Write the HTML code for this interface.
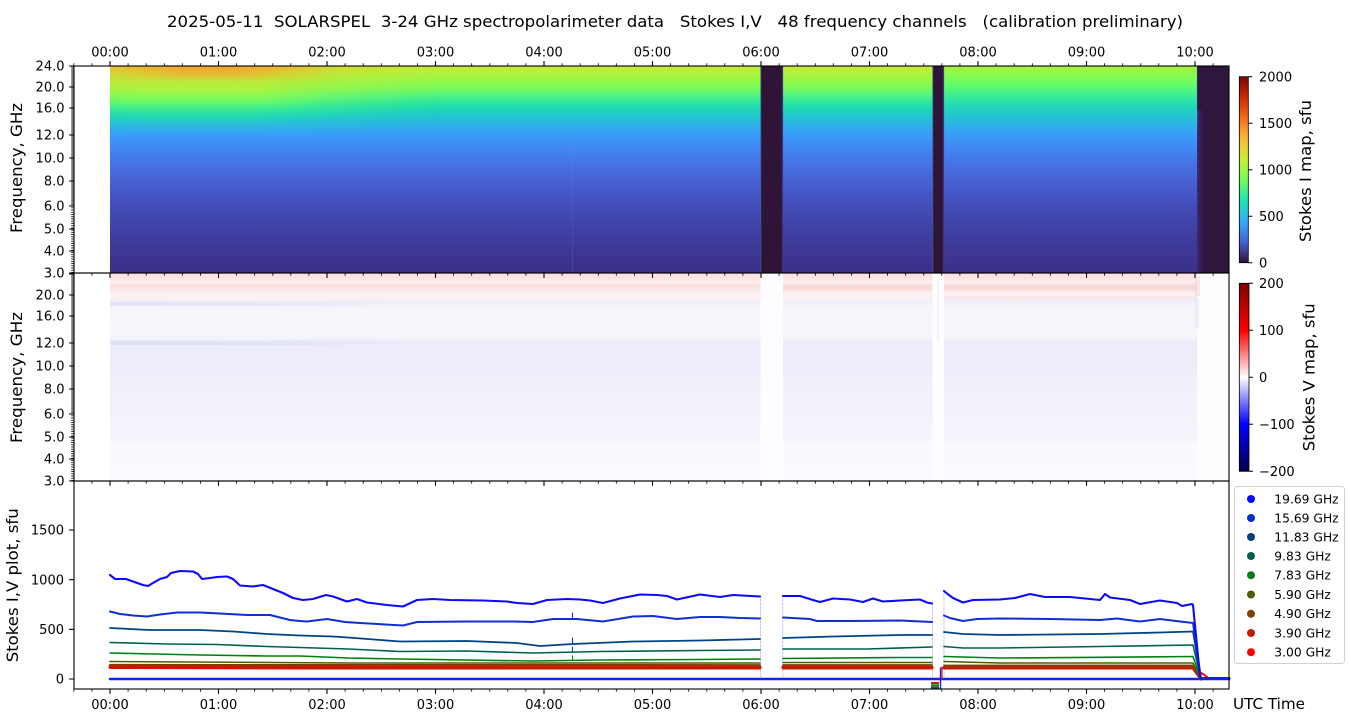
<!DOCTYPE html>
<html><head><meta charset="utf-8">
<style>
html,body{margin:0;padding:0;background:#fff;width:1350px;height:725px;overflow:hidden}
svg{display:block}
text{font-family:"DejaVu Sans","Liberation Sans",sans-serif;fill:#000}
</style></head>
<body>
<svg width="1350" height="725" viewBox="0 0 1350 725" xmlns="http://www.w3.org/2000/svg">
<defs>
  <linearGradient id="gM" gradientUnits="userSpaceOnUse" x1="0" y1="66" x2="0" y2="273">
    <stop offset="0" stop-color="#c4ea36"/>
    <stop offset=".029" stop-color="#b4f23a"/>
    <stop offset=".068" stop-color="#98f848"/>
    <stop offset=".106" stop-color="#78fb5c"/>
    <stop offset=".145" stop-color="#4cf285"/>
    <stop offset=".184" stop-color="#26e2a6"/>
    <stop offset=".222" stop-color="#1ed0c0"/>
    <stop offset=".271" stop-color="#2ab8e2"/>
    <stop offset=".329" stop-color="#389ef8"/>
    <stop offset=".396" stop-color="#4187f5"/>
    <stop offset=".478" stop-color="#4672e4"/>
    <stop offset=".575" stop-color="#465ed0"/>
    <stop offset=".671" stop-color="#434eba"/>
    <stop offset=".792" stop-color="#4040a4"/>
    <stop offset=".913" stop-color="#3d3692"/>
    <stop offset="1" stop-color="#3b3088"/>
  </linearGradient>
  <linearGradient id="gL" gradientUnits="userSpaceOnUse" x1="0" y1="66" x2="0" y2="134">
    <stop offset="0" stop-color="#e6c436"/>
    <stop offset=".059" stop-color="#dcd037"/>
    <stop offset=".147" stop-color="#cce038"/>
    <stop offset=".265" stop-color="#b8ec3a"/>
    <stop offset=".382" stop-color="#a0f646"/>
    <stop offset=".5" stop-color="#78fb5c"/>
    <stop offset=".618" stop-color="#40ee8e"/>
    <stop offset=".735" stop-color="#22dab0"/>
    <stop offset=".853" stop-color="#28c0d8"/>
    <stop offset="1" stop-color="#389ef8"/>
  </linearGradient>
  <linearGradient id="gR" gradientUnits="userSpaceOnUse" x1="0" y1="66" x2="0" y2="134">
    <stop offset="0" stop-color="#a8f03e"/>
    <stop offset=".118" stop-color="#8cf84c"/>
    <stop offset=".265" stop-color="#66fc66"/>
    <stop offset=".412" stop-color="#40f090"/>
    <stop offset=".559" stop-color="#24dcb0"/>
    <stop offset=".706" stop-color="#22c8cc"/>
    <stop offset=".853" stop-color="#2cb4e6"/>
    <stop offset="1" stop-color="#389ef8"/>
  </linearGradient>
  <linearGradient id="mL" gradientUnits="userSpaceOnUse" x1="110" y1="0" x2="440" y2="0">
    <stop offset="0" stop-color="#fff" stop-opacity=".9"/>
    <stop offset=".1" stop-color="#fff"/>
    <stop offset=".45" stop-color="#fff"/>
    <stop offset=".65" stop-color="#fff" stop-opacity=".5"/>
    <stop offset="1" stop-color="#fff" stop-opacity="0"/>
  </linearGradient>
  <mask id="mk" maskUnits="userSpaceOnUse" x="0" y="0" width="1350" height="725">
    <rect x="110" y="66" width="330" height="68" fill="url(#mL)"/>
  </mask>
  <linearGradient id="gOr" gradientUnits="userSpaceOnUse" x1="110" y1="0" x2="340" y2="0">
    <stop offset="0" stop-color="#f4a030" stop-opacity=".2"/>
    <stop offset=".2" stop-color="#f4a030" stop-opacity=".55"/>
    <stop offset=".3" stop-color="#f4a030" stop-opacity=".9"/>
    <stop offset=".55" stop-color="#f4a030" stop-opacity=".9"/>
    <stop offset=".75" stop-color="#f4a030" stop-opacity=".45"/>
    <stop offset="1" stop-color="#f4a030" stop-opacity="0"/>
  </linearGradient>
  <linearGradient id="gOrV" x1="0" y1="0" x2="0" y2="1">
    <stop offset="0" stop-color="#fff"/>
    <stop offset=".5" stop-color="#fff" stop-opacity=".6"/>
    <stop offset="1" stop-color="#fff" stop-opacity="0"/>
  </linearGradient>
  <mask id="mOr" maskUnits="userSpaceOnUse" x="0" y="0" width="1350" height="725">
    <rect x="110" y="66" width="230" height="16" fill="url(#gOrV)"/>
  </mask>
  <linearGradient id="gEnd" x1="0" y1="0" x2="1" y2="0">
    <stop offset="0" stop-color="#3a3088" stop-opacity=".85"/>
    <stop offset="1" stop-color="#30153d" stop-opacity="0"/>
  </linearGradient>
  <linearGradient id="gV" gradientUnits="userSpaceOnUse" x1="0" y1="273" x2="0" y2="481">
    <stop offset="0" stop-color="#fbe6e6"/>
    <stop offset=".024" stop-color="#fbe2e2"/>
    <stop offset=".043" stop-color="#fdeeee"/>
    <stop offset=".063" stop-color="#fbdede"/>
    <stop offset=".082" stop-color="#fce9e9"/>
    <stop offset=".101" stop-color="#fdf2f2"/>
    <stop offset=".12" stop-color="#fcf0f2"/>
    <stop offset=".139" stop-color="#efeff9"/>
    <stop offset=".159" stop-color="#f5f3fa"/>
    <stop offset=".188" stop-color="#f8f6fb"/>
    <stop offset=".226" stop-color="#f6f4fb"/>
    <stop offset=".274" stop-color="#f8f7fc"/>
    <stop offset=".313" stop-color="#f4f4fc"/>
    <stop offset=".332" stop-color="#eaeaf9"/>
    <stop offset=".351" stop-color="#ececfa"/>
    <stop offset=".466" stop-color="#ededfa"/>
    <stop offset=".514" stop-color="#f0f0fb"/>
    <stop offset=".635" stop-color="#f2f2fc"/>
    <stop offset=".803" stop-color="#f4f4fd"/>
    <stop offset=".822" stop-color="#f9f9fe"/>
    <stop offset="1" stop-color="#fbfbff"/>
  </linearGradient>
  <linearGradient id="gVl" gradientUnits="userSpaceOnUse" x1="110" y1="0" x2="430" y2="0">
    <stop offset="0" stop-color="#d8d8f4" stop-opacity=".55"/>
    <stop offset=".5" stop-color="#d8d8f4" stop-opacity=".4"/>
    <stop offset="1" stop-color="#d8d8f4" stop-opacity="0"/>
  </linearGradient>
  <linearGradient id="cbI" x1="0" y1="1" x2="0" y2="0">
    <stop offset="0" stop-color="#30123b"/>
    <stop offset=".111" stop-color="#4662d7"/>
    <stop offset=".222" stop-color="#36aaf9"/>
    <stop offset=".333" stop-color="#1ae4b6"/>
    <stop offset=".444" stop-color="#72fe5e"/>
    <stop offset=".556" stop-color="#c8ef34"/>
    <stop offset=".667" stop-color="#faba39"/>
    <stop offset=".778" stop-color="#f66b19"/>
    <stop offset=".889" stop-color="#ca2a04"/>
    <stop offset="1" stop-color="#7a0403"/>
  </linearGradient>
  <linearGradient id="cbV" x1="0" y1="1" x2="0" y2="0">
    <stop offset="0" stop-color="#00004c"/>
    <stop offset=".25" stop-color="#0000ff"/>
    <stop offset=".5" stop-color="#ffffff"/>
    <stop offset=".75" stop-color="#ff0000"/>
    <stop offset="1" stop-color="#7f0000"/>
  </linearGradient>
  <pattern id="pt" patternUnits="userSpaceOnUse" x="0" y="0" width="10" height="2.23">
    <rect x="0" y="0" width="10" height="0.8" fill="#000"/>
  </pattern>
  <g id="xt" stroke="#000" fill="none">
    <path stroke-width="1.1" d="M110 0v4.9M218.5 0v4.9M327 0v4.9M435.5 0v4.9M544 0v4.9M652.5 0v4.9M761 0v4.9M869.5 0v4.9M978 0v4.9M1086.5 0v4.9M1195 0v4.9"/>
    <path stroke-width="0.8" d="M73.8 0v2.8M91.9 0v2.8M128.1 0v2.8M146.2 0v2.8M164.3 0v2.8M182.3 0v2.8M200.4 0v2.8M236.6 0v2.8M254.7 0v2.8M272.8 0v2.8M290.8 0v2.8M308.9 0v2.8M345.1 0v2.8M363.2 0v2.8M381.3 0v2.8M399.3 0v2.8M417.4 0v2.8M453.6 0v2.8M471.7 0v2.8M489.8 0v2.8M507.8 0v2.8M525.9 0v2.8M562.1 0v2.8M580.2 0v2.8M598.3 0v2.8M616.3 0v2.8M634.4 0v2.8M670.6 0v2.8M688.7 0v2.8M706.8 0v2.8M724.8 0v2.8M742.9 0v2.8M779.1 0v2.8M797.2 0v2.8M815.3 0v2.8M833.3 0v2.8M851.4 0v2.8M887.6 0v2.8M905.7 0v2.8M923.8 0v2.8M941.8 0v2.8M959.9 0v2.8M996.1 0v2.8M1014.2 0v2.8M1032.3 0v2.8M1050.3 0v2.8M1068.4 0v2.8M1104.6 0v2.8M1122.7 0v2.8M1140.8 0v2.8M1158.8 0v2.8M1176.9 0v2.8M1213.1 0v2.8"/>
  </g>
  <g id="yt">
    <rect x="71.2" y="206" width="2.8" height="67" fill="url(#pt)"/>
    <rect x="71.2" y="66" width="2.8" height="140" fill="#000" fill-opacity=".5"/>
    <path stroke="#000" stroke-width="1.1" d="M69.1 66h4.9M69.1 87h4.9M69.1 108h4.9M69.1 135h4.9M69.1 158h4.9M69.1 181h4.9M69.1 206h4.9M69.1 229h4.9M69.1 251h4.9M69.1 273h4.9"/>
  </g>
</defs>

<!-- Title -->
<text x="167" y="27" font-size="16" textLength="1016" lengthAdjust="spacingAndGlyphs" style="white-space:pre">2025-05-11  SOLARSPEL  3-24 GHz spectropolarimeter data   Stokes I,V   48 frequency channels   (calibration preliminary)</text>

<!-- ===== TOP PANEL: Stokes I map ===== -->
<rect x="110" y="66" width="1119" height="207" fill="url(#gM)"/>
<rect x="110" y="66" width="330" height="68" fill="url(#gL)" mask="url(#mk)"/>
<rect x="110" y="66" width="230" height="16" fill="url(#gOr)" mask="url(#mOr)"/>
<rect x="944" y="66" width="253" height="68" fill="url(#gR)"/>
<line x1="572.5" y1="140" x2="572.5" y2="273" stroke="#6a8af0" stroke-opacity=".18"/>
<rect x="760.5" y="66" width="22.5" height="207" fill="#301438"/>
<rect x="932.5" y="66" width="11.5" height="207" fill="#301438"/>
<line x1="760.8" y1="66" x2="760.8" y2="273" stroke="#30b0e0" stroke-opacity=".4"/>
<line x1="782.5" y1="66" x2="782.5" y2="273" stroke="#4050b0" stroke-opacity=".5" stroke-width="1.5"/>
<line x1="932.8" y1="66" x2="932.8" y2="273" stroke="#30b0e0" stroke-opacity=".4"/>
<line x1="943.5" y1="66" x2="943.5" y2="273" stroke="#4050b0" stroke-opacity=".5" stroke-width="1.5"/>
<rect x="1197" y="66" width="32" height="207" fill="#30153d"/>
<rect x="1197" y="110" width="9" height="163" fill="url(#gEnd)"/>
<line x1="1196.8" y1="66" x2="1196.8" y2="130" stroke="#50c8e0" stroke-opacity=".4"/>

<!-- ===== MIDDLE PANEL: Stokes V map ===== -->
<rect x="110" y="273" width="1087" height="208" fill="url(#gV)"/>
<rect x="110" y="302" width="320" height="4" fill="url(#gVl)"/>
<rect x="110" y="341" width="320" height="4" fill="url(#gVl)"/>
<rect x="783" y="285" width="149" height="6" fill="#f4c8c8" fill-opacity=".3"/>
<rect x="944" y="285" width="253" height="6" fill="#f4c8c8" fill-opacity=".35"/>
<rect x="944" y="296" width="253" height="4" fill="#f6d8d8" fill-opacity=".3"/>
<rect x="760.5" y="273" width="22.5" height="208" fill="#fdfcfe"/>
<rect x="932.5" y="273" width="11.5" height="208" fill="#fdfcfe"/>
<line x1="938" y1="280" x2="938" y2="340" stroke="#d0d0f2" stroke-opacity=".5"/>
<rect x="1197" y="273" width="32" height="208" fill="#fefdfe"/>
<rect x="1195" y="276" width="5" height="20" fill="#f4c8c8" fill-opacity=".4"/>
<rect x="1195" y="298" width="4" height="30" fill="#dcdcf4" fill-opacity=".4"/>

<!-- ===== BOTTOM PANEL: lines ===== -->
<g fill="none" stroke-linejoin="round" stroke-linecap="round">
  <line x1="110" y1="679" x2="1229" y2="679" stroke="#1020ff" stroke-width="2.5"/>
  <g stroke="#6070f0" stroke-opacity=".4" stroke-width="1" stroke-dasharray="2 1.5">
    <line x1="760.5" y1="596" x2="760.5" y2="679"/>
    <line x1="782.8" y1="596" x2="782.8" y2="679"/>
    <line x1="932.5" y1="603" x2="932.5" y2="679"/>
    <line x1="944" y1="591" x2="944" y2="679"/>
  </g>
  <g stroke="#ff0000" stroke-width="2">
    <polyline points="110,668 300,668.5 760,668.5"/>
    <polyline points="783,668.5 932,668.5"/>
    <polyline points="944,668.5 1193,668.5 1203,674 1207,677"/>
  </g>
  <g stroke="#c41a00" stroke-width="3.2">
    <polyline points="110,666.8 400,667.2 760,667.3"/>
    <polyline points="783,667.3 932,667.3"/>
    <polyline points="944,667.8 1193,667.8 1201,679"/>
  </g>
  <g stroke="#7a3f00" stroke-width="1.8">
    <polyline points="110,664.8 760,665"/>
    <polyline points="783,665 932,665"/>
    <polyline points="944,665.5 1193,665.5 1201,679"/>
  </g>
  <g stroke="#4c6000" stroke-width="1.5">
    <polyline points="110,661.5 348,663 750,663 760,663"/>
    <polyline points="783,662.5 932,662.5"/>
    <polyline points="944,661.5 1000,663 1193,663 1201,679"/>
  </g>
  <g stroke="#008010" stroke-width="1.6">
    <polyline points="110,653 200,655 267,656 300,656 348,658 400,659 533,661 600,660 700,659.5 760,659"/>
    <polyline points="783,658.5 900,657.5 932,657.5"/>
    <polyline points="944,656.5 1000,658 1100,657.3 1193,656.5 1201,679"/>
  </g>
  <g stroke="#00604c" stroke-width="1.6">
    <polyline points="110,642.5 167,644 217,644.5 267,646.5 300,647.5 348,649 400,651.5 467,651 533,653 600,651.5 700,650.5 760,650"/>
    <polyline points="783,649 867,649 932,647"/>
    <polyline points="944,646.5 963,648 1000,648 1100,646.5 1193,645 1201,679"/>
  </g>
  <g stroke="#004488" stroke-width="1.8">
    <polyline points="110,628 150,630 200,630 233,631.5 267,634 300,635.5 333,636.5 348,637.5 400,641.5 467,641 517,643 540,646 573,644 633,641.5 700,640.5 760,639"/>
    <polyline points="783,638 833,636.5 900,635 932,635"/>
    <polyline points="944,632 963,634 1000,635 1100,634 1160,632.5 1193,631.5 1201,679"/>
  </g>
  <g stroke="#1030d0" stroke-width="2">
    <polyline points="110,611.5 120,614 133,615.5 147,616.5 160,614.5 177,612.5 200,612.5 220,613.5 247,615 270,615 290,620 300,621 307,621.5 327,619 345,622 360,623 403,625.5 417,622 467,621.5 513,621.5 533,622 553,619 577,619 603,621.5 633,616.5 653,616 677,619 700,617 720,617 740,618 760,618.5"/>
    <polyline points="783,617.5 810,619 817,621 850,621 900,620.5 932,622"/>
    <polyline points="944,615.5 950,618 963,621 977,619 1000,618.5 1050,619 1100,620 1117,618.5 1140,621.5 1160,619 1180,621.5 1193,623 1201,679"/>
  </g>
  <g stroke="#0a0aff" stroke-width="2.1">
    <polyline points="110,575 115,579 126,579 133,581.5 143,585 148,586 153,583 160,579 167,577 171,573 180,571 193,571.5 198,574 202,579 210,578 217,577 227,576.5 233,579 240,585.5 253,586.5 263,585 273,589 283,593 293,598 303,600 313,599 326,595 333,596.5 347,601.5 357,599 367,602.5 387,605 403,606.5 417,600 433,599 450,600 483,600.5 507,601.5 517,603 533,604 547,600 567,599 580,599.5 590,600.5 603,603 620,598.5 640,594.5 657,595 667,596 677,599.5 700,594.5 720,597 733,595 760,596.5"/>
    <polyline points="783,596 800,596 813,600 820,602 833,598.5 850,599.5 863,602 873,598.5 883,601.5 900,600.5 920,599.5 927,602.5 932,603.5"/>
    <polyline points="944,591 947,593.5 953,598 963,602.5 973,600 1000,599.5 1015,598 1030,594 1045,597 1070,597 1090,599 1100,600 1105,594 1110,597.5 1130,600 1140,604 1160,600.5 1177,603 1182,606 1192,604 1193,605 1200,676.5 1203,679"/>
  </g>
  <g stroke-width="1.1">
    <line x1="572.5" y1="619" x2="572.5" y2="613" stroke="#1030d0"/>
    <line x1="572.5" y1="643" x2="572.5" y2="638" stroke="#004488"/>
    <line x1="572.5" y1="651" x2="572.5" y2="647" stroke="#00604c"/>
    <line x1="572.5" y1="660" x2="572.5" y2="656" stroke="#008010"/>
  </g>
  <rect x="931" y="682" width="8" height="2" fill="#c02000" stroke="none"/>
  <rect x="931" y="684.3" width="8" height="2" fill="#108010" stroke="none"/>
  <rect x="931" y="686.5" width="8" height="2" fill="#006050" stroke="none"/>
  <line x1="940.5" y1="668" x2="940.5" y2="689" stroke="#1020ff" stroke-width="1.4"/>
  <line x1="942" y1="679" x2="942" y2="667" stroke="#c02000" stroke-width="1.2"/>
  <line x1="1203" y1="678.5" x2="1229" y2="678.5" stroke="#1020ff" stroke-width="3"/>
</g>

<!-- ===== Frames ===== -->
<g fill="none" stroke="#000" stroke-width="1.1">
  <rect x="74" y="66" width="1155" height="207"/>
  <rect x="74" y="273" width="1155" height="208"/>
  <rect x="74" y="481" width="1155" height="208"/>
</g>

<use href="#xt" transform="translate(0,66) scale(1,-1)"/>
<use href="#xt" transform="translate(0,273)"/>
<use href="#xt" transform="translate(0,481)"/>
<use href="#xt" transform="translate(0,689)"/>

<use href="#yt"/>
<use href="#yt" transform="translate(0,208)"/>
<path stroke="#000" stroke-width="1.1" d="M69.1 679h4.9M69.1 629.3h4.9M69.1 579.7h4.9M69.1 530h4.9"/>

<g font-size="13" text-anchor="middle">
  <text x="110" y="56.5">00:00</text>
  <text x="218.5" y="56.5">01:00</text>
  <text x="327" y="56.5">02:00</text>
  <text x="435.5" y="56.5">03:00</text>
  <text x="544" y="56.5">04:00</text>
  <text x="652.5" y="56.5">05:00</text>
  <text x="761" y="56.5">06:00</text>
  <text x="869.5" y="56.5">07:00</text>
  <text x="978" y="56.5">08:00</text>
  <text x="1086.5" y="56.5">09:00</text>
  <text x="1195" y="56.5">10:00</text>
</g>
<g font-size="13" text-anchor="middle">
  <text x="110" y="709">00:00</text>
  <text x="218.5" y="709">01:00</text>
  <text x="327" y="709">02:00</text>
  <text x="435.5" y="709">03:00</text>
  <text x="544" y="709">04:00</text>
  <text x="652.5" y="709">05:00</text>
  <text x="761" y="709">06:00</text>
  <text x="869.5" y="709">07:00</text>
  <text x="978" y="709">08:00</text>
  <text x="1086.5" y="709">09:00</text>
  <text x="1195" y="709">10:00</text>
</g>
<text x="1233" y="709" font-size="15.5" textLength="72" lengthAdjust="spacingAndGlyphs">UTC Time</text>

<g font-size="13" text-anchor="end">
  <text x="64.5" y="70.6">24.0</text>
  <text x="64.5" y="91.6">20.0</text>
  <text x="64.5" y="112.6">16.0</text>
  <text x="64.5" y="139.6">12.0</text>
  <text x="64.5" y="162.6">10.0</text>
  <text x="64.5" y="185.6">8.0</text>
  <text x="64.5" y="210.6">6.0</text>
  <text x="64.5" y="233.6">5.0</text>
  <text x="64.5" y="255.6">4.0</text>
  <text x="64.5" y="277.6">3.0</text>
</g>
<g font-size="13" text-anchor="end">
  <text x="64.5" y="299.6">20.0</text>
  <text x="64.5" y="320.6">16.0</text>
  <text x="64.5" y="347.6">12.0</text>
  <text x="64.5" y="370.6">10.0</text>
  <text x="64.5" y="393.6">8.0</text>
  <text x="64.5" y="418.6">6.0</text>
  <text x="64.5" y="441.6">5.0</text>
  <text x="64.5" y="463.6">4.0</text>
  <text x="64.5" y="485.6">3.0</text>
</g>
<g font-size="13" text-anchor="end">
  <text x="64" y="683.6">0</text>
  <text x="64" y="633.9">500</text>
  <text x="64" y="584.3">1000</text>
  <text x="64" y="534.6">1500</text>
</g>

<text font-size="16" text-anchor="middle" transform="translate(22,168) rotate(-90)" textLength="130" lengthAdjust="spacingAndGlyphs">Frequency, GHz</text>
<text font-size="16" text-anchor="middle" transform="translate(22,377.5) rotate(-90)" textLength="131" lengthAdjust="spacingAndGlyphs">Frequency, GHz</text>
<text font-size="16" text-anchor="middle" transform="translate(18,585.3) rotate(-90)" textLength="154" lengthAdjust="spacingAndGlyphs">Stokes I,V plot, sfu</text>

<rect x="1239.3" y="76.7" width="9" height="186" fill="url(#cbI)" stroke="#000" stroke-width="0.8"/>
<path stroke="#000" stroke-width="1" d="M1248.3 76.7h4M1248.3 123.2h4M1248.3 169.7h4M1248.3 216.2h4M1248.3 262.7h4"/>
<g font-size="13">
  <text x="1259" y="81.4">2000</text>
  <text x="1259" y="127.9">1500</text>
  <text x="1259" y="174.4">1000</text>
  <text x="1259" y="220.9">500</text>
  <text x="1259" y="267.4">0</text>
</g>
<text font-size="16" text-anchor="middle" transform="translate(1311,171) rotate(-90)" textLength="142" lengthAdjust="spacingAndGlyphs">Stokes I map, sfu</text>

<rect x="1239.3" y="283.3" width="9.7" height="188" fill="url(#cbV)" stroke="#000" stroke-width="0.8"/>
<path stroke="#000" stroke-width="1" d="M1249 283.3h4M1249 330.3h4M1249 377.3h4M1249 424.3h4M1249 471.3h4"/>
<g font-size="13">
  <text x="1259" y="288">200</text>
  <text x="1259" y="335">100</text>
  <text x="1259" y="382">0</text>
  <text x="1259" y="429">−100</text>
  <text x="1259" y="476">−200</text>
</g>
<text font-size="16" text-anchor="middle" transform="translate(1314.5,377.3) rotate(-90)" textLength="148" lengthAdjust="spacingAndGlyphs">Stokes V map, sfu</text>

<rect x="1234.5" y="486.5" width="110" height="177" rx="3" fill="#fff" fill-opacity=".85" stroke="#d0d0d0" stroke-width="1"/>
<g>
  <circle cx="1251" cy="499" r="4" fill="#0010ff"/>
  <circle cx="1251" cy="518" r="4" fill="#0030c8"/>
  <circle cx="1251" cy="537" r="4" fill="#004080"/>
  <circle cx="1251" cy="556" r="4" fill="#00604c"/>
  <circle cx="1251" cy="575.2" r="4" fill="#008010"/>
  <circle cx="1251" cy="594.5" r="4" fill="#4c6000"/>
  <circle cx="1251" cy="613.8" r="4" fill="#804000"/>
  <circle cx="1251" cy="633" r="4" fill="#c02000"/>
  <circle cx="1251" cy="652.2" r="4" fill="#ff0000"/>
</g>
<g font-size="12.3">
  <text x="1274.3" y="503.4">19.69 GHz</text>
  <text x="1274.3" y="522.4">15.69 GHz</text>
  <text x="1274.3" y="541.4">11.83 GHz</text>
  <text x="1274.3" y="560.4">9.83 GHz</text>
  <text x="1274.3" y="579.6">7.83 GHz</text>
  <text x="1274.3" y="598.9">5.90 GHz</text>
  <text x="1274.3" y="618.2">4.90 GHz</text>
  <text x="1274.3" y="637.4">3.90 GHz</text>
  <text x="1274.3" y="656.6">3.00 GHz</text>
</g>
</svg>
</body></html>
